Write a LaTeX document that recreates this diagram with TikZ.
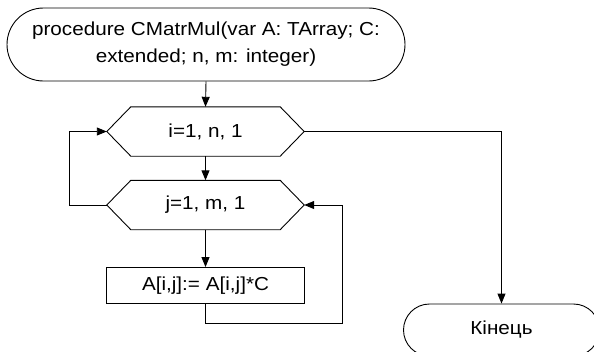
\documentclass[tikz,border=0pt]{standalone}
\usepackage{fontspec}
\setmainfont[FakeStretch=1.1]{Liberation Sans}
\usetikzlibrary{arrows.meta,shapes.misc,calc}
\begin{document}
\begin{tikzpicture}[x=1pt,y=-1pt,
  every node/.style={font=\fontsize{18.8}{27}\selectfont, inner sep=0pt},
  line/.style={line width=0.9pt},
  arr/.style={line, -{Triangle[length=10pt,width=8pt]}},
  term/.style={rounded rectangle, draw, line width=0.9pt, align=center},
  hexbox/.style={minimum width=197pt, minimum height=49pt},
  procbox/.style={draw, line width=0.9pt, minimum width=198pt, minimum height=36pt}]
\clip (0,0) rectangle (594,351);
\node[term, minimum width=398pt, minimum height=73pt] (start) at (206,44.5)
  {procedure CMatrMul(var A: TArray; C:\\extended; n, m: integer)};
\node[hexbox] (h1) at (205.5,131.5) {i=1, n, 1};
\node[hexbox] (h2) at (205.5,205) {j=1, m, 1};
\node[procbox] (p) at (205.5,285.5) {A[i,j]:= A[i,j]*C};
\node[term, minimum width=196pt, minimum height=52pt] (end) at (501.5,330) {Кінець};
\foreach \h in {h1,h2}{
  \draw[line] (\h.west) -- ([xshift=24pt]\h.north west) -- ([xshift=-24pt]\h.north east)
    -- (\h.east) -- ([xshift=-24pt]\h.south east) -- ([xshift=24pt]\h.south west) -- cycle;
}
\coordinate (c1) at (342,323);
\coordinate (c2) at (69,205);
\draw[arr] (start.south) -- (h1.north);
\draw[arr] (h1.south) -- (h2.north);
\draw[arr] (h2.south) -- (p.north);
\draw[arr] (p.south) |- (c1) |- (h2.east);
\draw[arr] (h2.west) -- (c2) |- (h1.west);
\draw[arr] (h1.east) -| (end.north);
\end{tikzpicture}
\end{document}
